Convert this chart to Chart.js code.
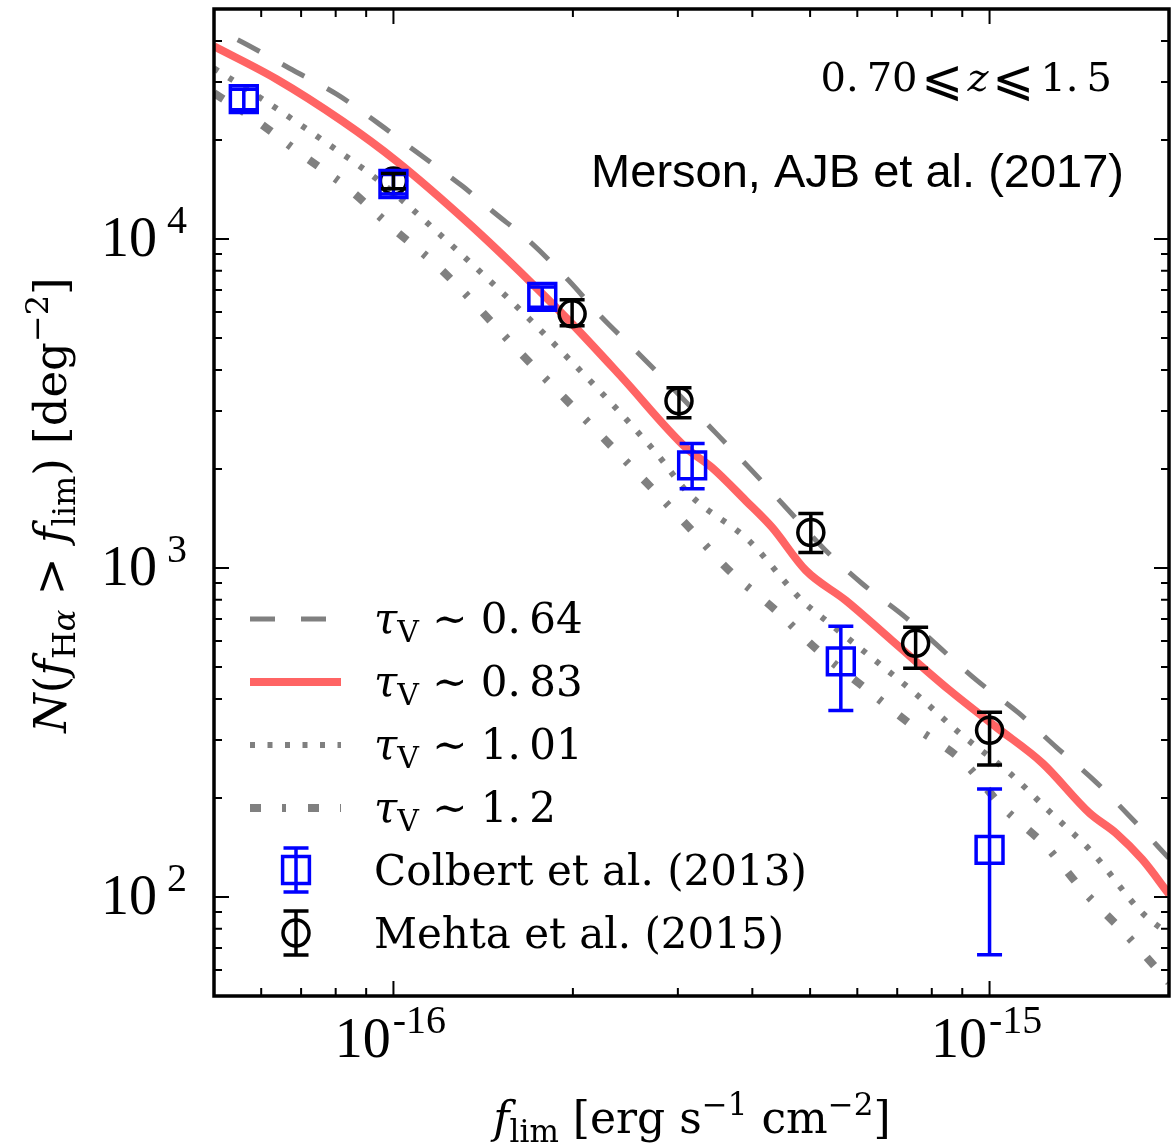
<!DOCTYPE html>
<html>
<head>
<meta charset="utf-8">
<title>N(f_Halpha > f_lim)</title>
<script src="https://cdn.jsdelivr.net/npm/chart.js@4.4.1/dist/chart.umd.min.js"></script>
<style>
  body { margin: 0; background: #fff; }
  canvas { display: block; }
</style>
</head>
<body>
<canvas id="miGrafico" width="1171" height="1147"></canvas>
<script>
// curvas del modelo: flujo limite [erg/s/cm2] y cuentas acumuladas [deg-2]
var flujoTau064 = [5.0e-17, 5.46e-17, 6.69e-17, 8.03e-17, 9.47e-17, 1.105e-16, 1.305e-16, 1.465e-16, 1.71e-16, 1.97e-16, 2.24e-16, 2.58e-16, 3.42e-16, 3.99e-16, 4.55e-16, 5.31e-16, 6.11e-16, 7.23e-16, 9.51e-16, 1.12e-15, 1.295e-15, 1.51e-15, 1.76e-15, 2.0e-15];
var nTau064 = [43500, 40460, 33040, 27540, 22340, 18110, 14480, 12160, 9660, 7460, 5760, 4480, 2650, 1980, 1530, 1130, 897, 708, 456, 362, 285, 223, 168, 131];

var flujoTau083 = [5.0e-17, 6.37e-17, 8.21e-17, 1.012e-16, 1.341e-16, 1.69e-16, 1.994e-16, 2.419e-16, 3.096e-16, 3.422e-16, 3.902e-16, 4.314e-16, 4.918e-16, 5.737e-16, 6.852e-16, 8.57e-16, 1.027e-15, 1.227e-15, 1.471e-15, 1.632e-15, 1.804e-15, 2.0e-15];
var nTau083 = [38520, 30590, 22810, 17240, 11100, 7460, 5520, 3790, 2320, 2020, 1600, 1330, 983, 797, 603, 425, 328, 255, 180, 156, 130, 102];

var flujoTau101 = [5.0e-17, 6.03e-17, 7.52e-17, 9.47e-17, 1.194e-16, 1.756e-16, 2.757e-16, 3.131e-16, 3.948e-16, 4.843e-16, 5.313e-16, 7.63e-16, 8.906e-16, 1.08e-15, 1.26e-15, 1.49e-15, 1.804e-15, 2.0e-15];
var nTau101 = [33000, 26600, 20250, 15000, 10360, 5330, 2240, 1680, 1210, 797, 693, 405, 315, 238, 182, 136, 89.4, 77];

var flujoTau120 = [5.0e-17, 5.81e-17, 6.96e-17, 8.38e-17, 9.96e-17, 1.194e-16, 1.638e-16, 2.257e-16, 3.131e-16, 3.655e-16, 4.381e-16, 5.13e-16, 6.245e-16, 7.4e-16, 9.01e-16, 1.051e-15, 1.246e-15, 1.432e-15, 1.696e-15, 2.0e-15];
var nTau120 = [27740, 23290, 18240, 14290, 10800, 8170, 4480, 2470, 1330, 983, 743, 566, 425, 333, 259, 188, 142, 105, 76.7, 55];

// observaciones
var flujoColbert = [5.61e-17, 1.0e-16, 1.777e-16, 3.17e-16, 5.63e-16, 1.0e-15];
var nColbert = [26600, 14690, 6670, 2050, 520, 139];
var nColbertAlto = [28500, 15700, 7150, 2390, 665, 213];
var nColbertBajo = [24700, 13700, 6200, 1740, 369, 66.7];

var flujoMehta = [1.0e-16, 1.994e-16, 3.013e-16, 5.014e-16, 7.516e-16, 1.0e-15];
var nMehta = [15000, 5920, 3220, 1282, 590, 321];
var nMehtaAlto = [15800, 6530, 3530, 1464, 660, 364];
var nMehtaBajo = [14200, 5450, 2860, 1114, 496, 252];

// etiquetas de los ejes
var ticksX = [1e-16, 1e-15];
var expX = ['-16', '-15'];
var ticksY = [100, 1000, 10000];
var expY = ['2', '3', '4'];
var etiquetasLeyenda = ['0.\u200964', '0.\u200983', '1.\u200901', '1.\u20092'];

var gris = '#808080';
var rojo = '#ff6464';
var azul = '#0000ff';
var serif = '"DejaVu Serif", "DejaVu Sans", serif';
var serifTicks = '"Liberation Serif", serif';

function pares(xs, ys) {
    return xs.map(function(x, i) { return { x: x, y: ys[i] }; });
}

function fuente(px, estilo, familia) {
    return (estilo || '') + ' ' + px + 'px ' + (familia || serif);
}

// escribe un texto hecho de varios trozos (subindices, superindices)
function escribir(c, partes, x, y, alinear) {
    var ancho = 0;
    partes.forEach(function(p) { c.font = p.f; ancho += c.measureText(p.t).width + (p.sep || 0); });
    var xi = x;
    if (alinear === 'center') xi = x - ancho / 2;
    if (alinear === 'right') xi = x - ancho;
    partes.forEach(function(p) {
        c.font = p.f;
        xi += (p.sep || 0);
        c.fillText(p.t, xi, y + (p.dy || 0));
        xi += c.measureText(p.t).width;
    });
}

function marcasLog(min, max) {
    var lista = [];
    for (var e = Math.floor(Math.log10(min)); e <= Math.ceil(Math.log10(max)); e++) {
        for (var k = 1; k < 10; k++) {
            var v = k * Math.pow(10, e);
            if (v > min * 1.001 && v < max / 1.001) lista.push({ v: v, mayor: k === 1 });
        }
    }
    return lista;
}

function barrasError(c, sx, sy, xs, alto, bajo, color) {
    c.strokeStyle = color;
    c.lineWidth = 3.5;
    xs.forEach(function(x, i) {
        var px = sx.getPixelForValue(x);
        var p1 = sy.getPixelForValue(alto[i]);
        var p2 = sy.getPixelForValue(bajo[i]);
        c.beginPath();
        c.moveTo(px, p1); c.lineTo(px, p2);
        c.moveTo(px - 12.5, p1); c.lineTo(px + 12.5, p1);
        c.moveTo(px - 12.5, p2); c.lineTo(px + 12.5, p2);
        c.stroke();
    });
}

var extras = {
    id: 'extras',
    afterDatasetsDraw: function(chart) {
        var c = chart.ctx, sx = chart.scales.x, sy = chart.scales.y;
        c.save();
        barrasError(c, sx, sy, flujoColbert, nColbertAlto, nColbertBajo, azul);
        barrasError(c, sx, sy, flujoMehta, nMehtaAlto, nMehtaBajo, '#000');
        c.restore();
    },
    afterDraw: function(chart) {
        var c = chart.ctx, a = chart.chartArea, sx = chart.scales.x, sy = chart.scales.y;
        c.save();
        c.fillStyle = '#000';
        c.strokeStyle = '#000';

        // marcas hacia dentro en los cuatro lados
        c.lineWidth = 2;
        marcasLog(sx.min, sx.max).forEach(function(m) {
            var px = sx.getPixelForValue(m.v), l = m.mayor ? 15 : 8;
            c.beginPath();
            c.moveTo(px, a.bottom); c.lineTo(px, a.bottom - l);
            c.moveTo(px, a.top); c.lineTo(px, a.top + l);
            c.stroke();
        });
        marcasLog(sy.min, sy.max).forEach(function(m) {
            var py = sy.getPixelForValue(m.v), l = m.mayor ? 15 : 8;
            c.beginPath();
            c.moveTo(a.left, py); c.lineTo(a.left + l, py);
            c.moveTo(a.right, py); c.lineTo(a.right - l, py);
            c.stroke();
        });

        // marco
        c.lineWidth = 3.5;
        c.strokeRect(a.left, a.top, a.right - a.left, a.bottom - a.top);

        // etiquetas de las marcas
        ticksX.forEach(function(v, i) {
            escribir(c, [
                { t: '10', f: fuente(56, '', serifTicks) },
                { t: expX[i], f: fuente(40, '', serifTicks), dy: -24, sep: 2 }
            ], sx.getPixelForValue(v) - 3, a.bottom + 61, 'center');
        });
        ticksY.forEach(function(v, i) {
            escribir(c, [
                { t: '10', f: fuente(56, '', serifTicks) },
                { t: expY[i], f: fuente(40, '', serifTicks), dy: -23, sep: 10 }
            ], a.left - 27, sy.getPixelForValue(v) + 17, 'right');
        });

        // titulos de los ejes
        escribir(c, [
            { t: 'f', f: fuente(44, 'italic') },
            { t: 'lim', f: fuente(31), dy: 9 },
            { t: ' [erg s', f: fuente(44) },
            { t: '\u22121', f: fuente(31), dy: -18 },
            { t: ' cm', f: fuente(44) },
            { t: '\u22122', f: fuente(31), dy: -18 },
            { t: ']', f: fuente(44) }
        ], 692, 1133, 'center');

        c.save();
        c.translate(66, 505);
        c.rotate(-Math.PI / 2);
        escribir(c, [
            { t: 'N', f: fuente(45, 'italic') },
            { t: '(', f: fuente(45) },
            { t: 'f', f: fuente(45, 'italic') },
            { t: 'H', f: fuente(32), dy: 9 },
            { t: '\u03b1', f: fuente(32, 'italic'), dy: 9 },
            { t: ' > ', f: fuente(45) },
            { t: 'f', f: fuente(45, 'italic') },
            { t: 'lim', f: fuente(32), dy: 9 },
            { t: ') [deg', f: fuente(45) },
            { t: '\u22122', f: fuente(32), dy: -18 },
            { t: ']', f: fuente(45) }
        ], 0, 0, 'center');
        c.restore();

        // anotaciones
        escribir(c, [
            { t: '0.\u200970', f: fuente(40) },
            { t: '\u2a7d', f: fuente(50), sep: 4, dy: 4 },
            { t: 'z', f: fuente(40, 'italic'), sep: 4 },
            { t: '\u2a7d', f: fuente(50), sep: 4, dy: 4 },
            { t: '1.\u20095', f: fuente(40), sep: 6 }
        ], 1112, 91, 'right');
        escribir(c, [
            { t: 'Merson, AJB et al. (2017)', f: fuente(47, '', '"Liberation Sans", Arial, sans-serif') }
        ], 1124, 187, 'right');

        // leyenda
        var filas = [619, 682, 745, 808];
        [0, 1, 2, 3].forEach(function(idx, k) {
            var ds = chart.data.datasets[idx];
            c.save();
            c.strokeStyle = ds.borderColor;
            c.lineWidth = ds.borderWidth;
            c.lineCap = 'butt';
            c.setLineDash(ds.borderDash || []);
            c.beginPath();
            c.moveTo(250, filas[k]);
            c.lineTo(341, filas[k]);
            c.stroke();
            c.restore();
            escribir(c, [
                { t: '\u03c4', f: fuente(42, 'italic') },
                { t: 'V', f: fuente(30), dy: 9 },
                { t: ' \u223c ' + etiquetasLeyenda[k], f: fuente(42) }
            ], 374, filas[k] + 14, 'left');
        });

        var xm = 296;
        [[870, azul, 'Colbert et al. (2013)'], [933, '#000', 'Mehta et al. (2015)']].forEach(function(e, k) {
            c.save();
            c.strokeStyle = e[1];
            c.lineWidth = 3.5;
            c.beginPath();
            c.moveTo(xm, e[0] - 22); c.lineTo(xm, e[0] + 22);
            c.moveTo(xm - 12.5, e[0] - 22); c.lineTo(xm + 12.5, e[0] - 22);
            c.moveTo(xm - 12.5, e[0] + 22); c.lineTo(xm + 12.5, e[0] + 22);
            c.stroke();
            c.beginPath();
            if (k === 0) {
                c.rect(xm - 13.4, e[0] - 13.4, 26.8, 26.8);
            } else {
                c.arc(xm, e[0], 13, 0, Math.PI * 2);
            }
            c.stroke();
            c.restore();
            escribir(c, [{ t: e[2], f: fuente(42) }], 374, e[0] + 15, 'left');
        });

        c.restore();
    }
};

var ctx = document.getElementById('miGrafico');
var grafico = new Chart(ctx, {
    type: 'scatter',
    data: {
        datasets: [
            { label: 'tau 0.64', data: pares(flujoTau064, nTau064), showLine: true, borderColor: gris, borderWidth: 5,
              borderDash: [25, 26], borderDashOffset: 25, borderCapStyle: 'butt', pointRadius: 0, clip: 0, order: 2,
              cubicInterpolationMode: 'monotone' },
            { label: 'tau 0.83', data: pares(flujoTau083, nTau083), showLine: true, borderColor: rojo, borderWidth: 8,
              pointRadius: 0, clip: 0, order: 1, cubicInterpolationMode: 'monotone' },
            { label: 'tau 1.01', data: pares(flujoTau101, nTau101), showLine: true, borderColor: gris, borderWidth: 6,
              borderDash: [5, 12.5], borderCapStyle: 'butt', pointRadius: 0, clip: 0, order: 3,
              cubicInterpolationMode: 'monotone' },
            { label: 'tau 1.2', data: pares(flujoTau120, nTau120), showLine: true, borderColor: gris, borderWidth: 8,
              borderDash: [11, 21, 4, 22], borderCapStyle: 'butt', pointRadius: 0, clip: 0, order: 4,
              cubicInterpolationMode: 'monotone' },
            { label: 'Colbert et al. (2013)', data: pares(flujoColbert, nColbert), pointStyle: 'rect', pointRadius: 19,
              pointBorderColor: azul, pointBorderWidth: 3.5, pointBackgroundColor: 'rgba(0,0,0,0)', order: 0 },
            { label: 'Mehta et al. (2015)', data: pares(flujoMehta, nMehta), pointStyle: 'circle', pointRadius: 13,
              pointBorderColor: '#000', pointBorderWidth: 3.5, pointBackgroundColor: 'rgba(0,0,0,0)', order: 0 }
        ]
    },
    options: {
        responsive: false,
        animation: false,
        devicePixelRatio: 1,
        events: [],
        layout: { autoPadding: false, padding: { left: 214, top: 9, right: 2, bottom: 151 } },
        plugins: { legend: { display: false }, tooltip: { enabled: false } },
        scales: {
            x: { type: 'logarithmic', min: 5e-17, max: 2e-15, display: false },
            y: { type: 'logarithmic', min: 50, max: 50000, display: false }
        }
    },
    plugins: [extras]
});
</script>
</body>
</html>
